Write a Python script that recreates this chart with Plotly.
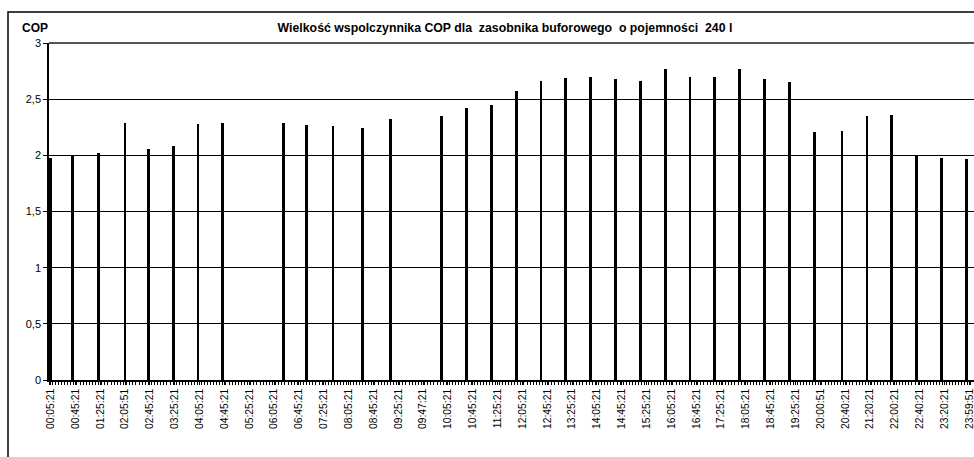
import plotly.graph_objects as go

# Category slot index (5-minute slots) where each COP bar sits
bar_slots = [0, 7, 15.5, 24, 31.5, 39.5, 47.5, 55.5,
             75, 82.5, 91, 100.5, 109.5,
             126, 134, 142, 150, 158, 166, 174, 182, 190, 198, 206, 214, 222, 230, 238, 246,
             255, 263, 271, 279, 287, 295]
cop_values = [1.98, 2.00, 2.02, 2.29, 2.06, 2.08, 2.28, 2.29,
              2.29, 2.27, 2.26, 2.24, 2.32,
              2.35, 2.42, 2.45, 2.57, 2.665, 2.69, 2.70, 2.68, 2.665, 2.77, 2.70, 2.70, 2.77, 2.68, 2.65, 2.21,
              2.22, 2.35, 2.36, 1.99, 1.98, 1.97]

tick_labels = ["00:05:21", "00:45:21", "01:25:21", "02:05:51", "02:45:21", "03:25:21", "04:05:21",
               "04:45:21", "05:25:21", "06:05:21", "06:45:21", "07:25:21", "08:05:21", "08:45:21",
               "09:25:21", "09:47:21", "10:05:21", "10:45:21", "11:25:21", "12:05:21", "12:45:21",
               "13:25:21", "14:05:21", "14:45:21", "15:25:21", "16:05:21", "16:45:21", "17:25:21",
               "18:05:21", "18:45:21", "19:25:21", "20:00:51", "20:40:21", "21:20:21", "22:00:21",
               "22:40:21", "23:20:21", "23:59:51"]
tick_slots = [8 * i for i in range(len(tick_labels))]

y_ticks = [0, 0.5, 1, 1.5, 2, 2.5, 3]

FONT = "Liberation Sans, Arial, sans-serif"

fig = go.Figure()
fig.add_trace(go.Bar(
    x=bar_slots, y=cop_values, width=0.9,
    marker=dict(color="black", line=dict(width=0)),
    showlegend=False,
))

W, H = 974, 457
ml, mr, mt, mb = 49, 0, 43, 77
pw, ph = W - ml - mr, H - mt - mb

def px_x(p):
    return (p - ml) / pw

def px_y(p):
    return (H - mb - p) / ph

fig.update_layout(
    width=W, height=H,
    margin=dict(l=ml, r=mr, t=mt, b=mb, pad=0, autoexpand=False),
    paper_bgcolor="white", plot_bgcolor="white",
    separators=", ",
    font=dict(family=FONT, size=11, color="black"),
    bargap=0,
    title=dict(
        text="<b>Wielkość wspolczynnika COP dla\u00a0 zasobnika buforowego\u00a0 o pojemności\u00a0 240 l</b>",
        font=dict(family=FONT, size=12.3, color="black"),
        xref="paper", x=px_x(505), xanchor="center",
        yref="container", y=1 - 28 / H, yanchor="middle",
    ),
    xaxis=dict(
        range=[-0.5, 297.5], automargin=False,
        tickmode="array", tickvals=tick_slots, ticktext=tick_labels,
        tickangle=-90, tickfont=dict(family=FONT, size=10.3, color="black"),
        ticklabeloverflow="allow",
        ticks="outside", ticklen=3, tickwidth=1, tickcolor="black",
        minor=dict(dtick=1, tick0=0.5, ticks="outside", ticklen=3, tickwidth=1, tickcolor="black", showgrid=False),
        showgrid=False, zeroline=False,
        showline=True, linecolor="black", linewidth=1.5,
        fixedrange=True,
    ),
    yaxis=dict(
        range=[0, 3], automargin=False, tickmode="array", tickvals=y_ticks,
        ticks="outside", ticklen=4, tickwidth=1, tickcolor="black",
        tickfont=dict(family=FONT, size=11, color="black"),
        showgrid=True, gridcolor="black", gridwidth=1.3,
        zeroline=False,
        showline=True, linecolor="black", linewidth=1.5,
        fixedrange=True,
    ),
    annotations=[dict(
        text="<b>COP</b>", xref="paper", yref="paper",
        x=px_x(20), y=px_y(28), xanchor="left", yanchor="middle",
        showarrow=False, font=dict(family=FONT, size=12, color="black"),
    )],
    shapes=[
        dict(type="rect", xref="paper", yref="paper",
             x0=px_x(8), x1=px_x(990), y0=px_y(12), y1=px_y(470),
             line=dict(color="black", width=1.5), layer="below"),
        dict(type="line", xref="paper", yref="paper",
             x0=0, x1=1, y0=1, y1=1,
             line=dict(color="#555555", width=2)),
    ],
)

fig.write_html(
    "out.html",
    config={"displayModeBar": False},
    post_script="document.body.style.margin='0';document.body.style.overflow='hidden';",
)
